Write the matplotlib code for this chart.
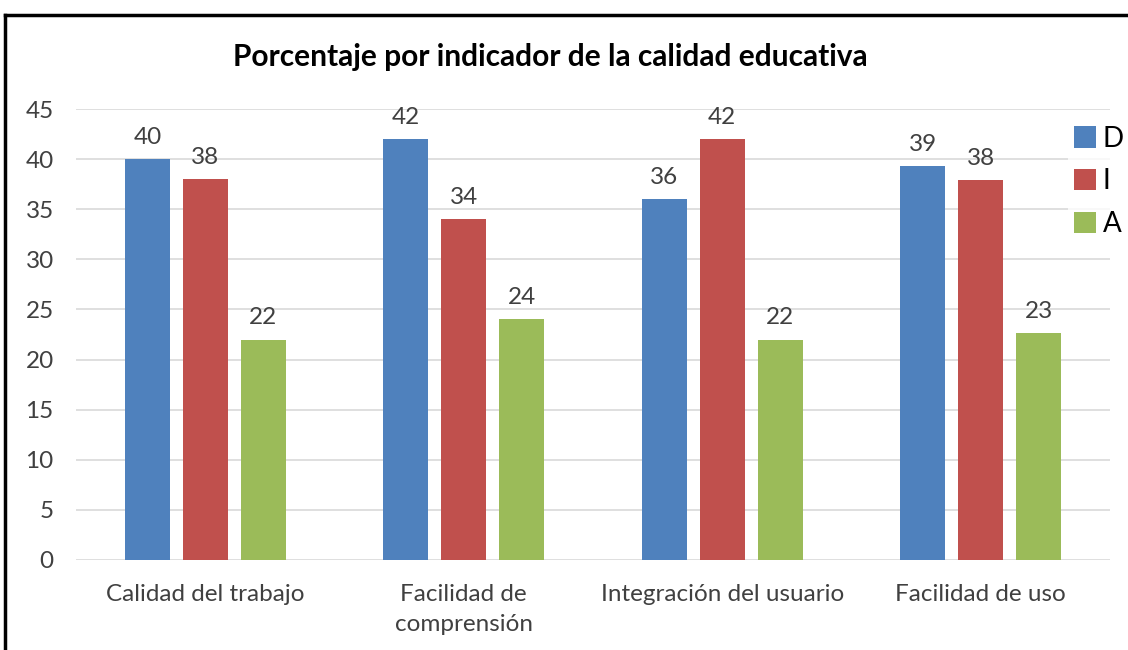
import numpy as np
import matplotlib.pyplot as plt
from matplotlib.lines import Line2D

categories = ["Calidad del trabajo", "Facilidad de\ncomprensión",
              "Integración del usuario", "Facilidad de uso"]
series_names = ["D", "I", "A"]
d_vals = [40, 42, 36, 39.35]
i_vals = [38, 34, 42, 37.9]
a_vals = [22, 24, 22, 22.65]
labels_d = ["40", "42", "36", "39"]
labels_i = ["38", "34", "42", "38"]
labels_a = ["22", "24", "22", "23"]
colors = ["#4F81BD", "#C0504D", "#9BBB59"]

plt.rcParams['font.family'] = ['Lato', 'DejaVu Sans']
txt = "#404040"

fig = plt.figure(figsize=(11.28, 6.5), dpi=100)
ax = fig.add_axes([76/1128, 1-560/650, (1110-76)/1128, (560-109)/650])

x = np.arange(len(categories))
w = 0.174
step = 0.224
for k, (vals, labs) in enumerate(zip([d_vals, i_vals, a_vals], [labels_d, labels_i, labels_a])):
    bars = ax.bar(x + (k-1)*step, vals, width=w, color=colors[k], label=series_names[k], zorder=3)
    for b, lab in zip(bars, labs):
        ax.annotate(lab, (b.get_x() + b.get_width()/2, b.get_height()),
                    xytext=(0, 8), textcoords='offset points', ha='center', va='bottom',
                    fontsize=17.5, color=txt)

ax.set_xlim(-0.5, 3.5)
ax.set_ylim(0, 45)
ax.set_yticks(range(0, 46, 5))
ax.set_xticks(x)
ax.set_xticklabels(categories, fontsize=17.5, color=txt, linespacing=1.55)
ax.tick_params(axis='y', labelsize=17.5, labelcolor=txt, length=0, pad=16)
ax.tick_params(axis='x', length=0, pad=17)
ax.grid(axis='y', color='#D9D9D9', linewidth=1.2, zorder=0)
for s in ax.spines.values():
    s.set_visible(False)

fig.text(550/1128, 1-57/650, "Porcentaje por indicador de la calidad educativa",
         ha='center', va='center', fontsize=21.5, fontweight='bold', color='black')

fig.legend(loc='upper left', bbox_to_anchor=(1068/1128, 1-120/650), frameon=True,
           edgecolor='none', facecolor='white', fontsize=20, handlelength=0.8,
           handleheight=0.8, handletextpad=0.25, labelspacing=0.6, borderpad=0.2,
           borderaxespad=0)

# black frame around the chart
fig.add_artist(Line2D([5/1128, 1], [1-15/650, 1-15/650], color='black', linewidth=2.5,
                      transform=fig.transFigure))
fig.add_artist(Line2D([5/1128, 5/1128], [0, 1-15/650], color='black', linewidth=2.5,
                      transform=fig.transFigure))

fig.savefig("out.png", dpi=100)
